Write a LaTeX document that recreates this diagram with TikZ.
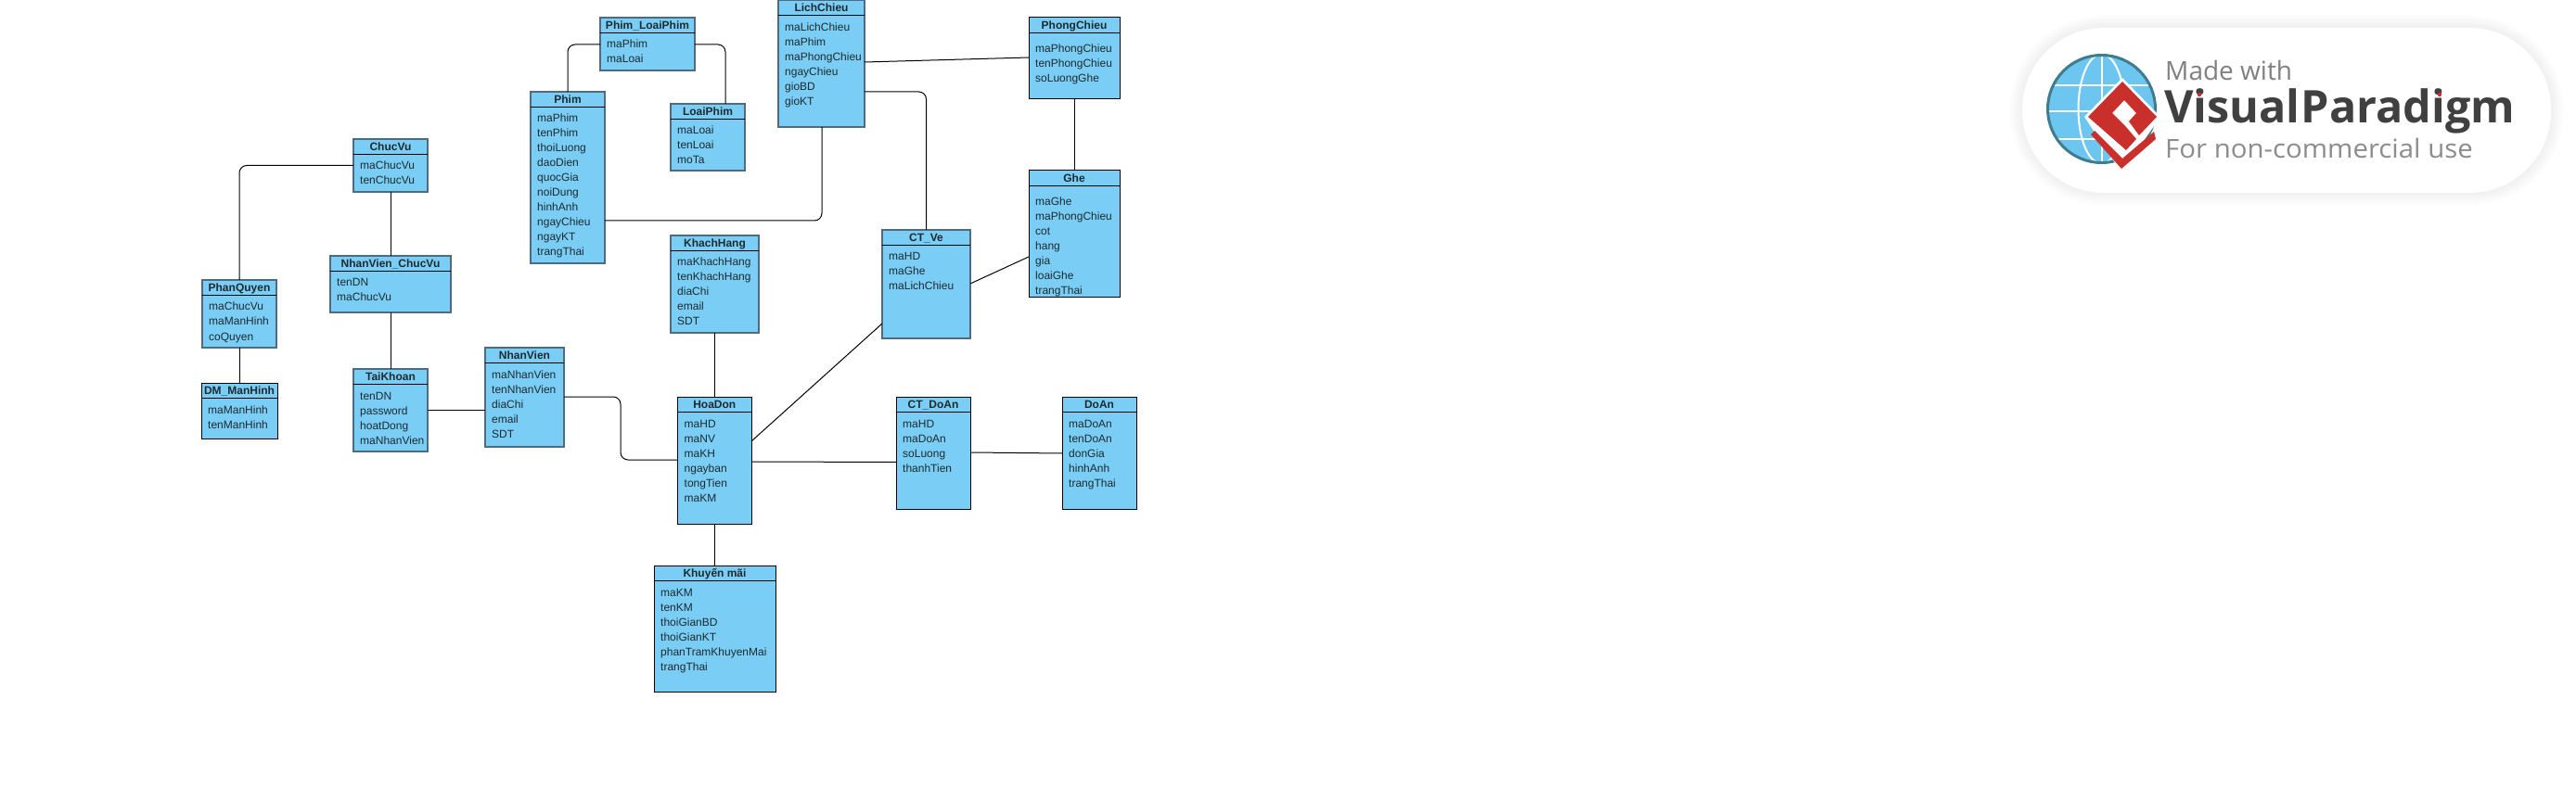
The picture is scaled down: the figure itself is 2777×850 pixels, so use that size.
\documentclass[tikz,border=0pt]{standalone}
\usepackage{fontspec}
\setmainfont{Liberation Sans}
\newfontfamily\logofont{Open Sans}
\definecolor{tblfill}{HTML}{7ACEF5}
\definecolor{tblsoft}{HTML}{4F6B80}
\definecolor{tblink}{HTML}{1F2A30}
\definecolor{logored}{HTML}{C9302C}
\definecolor{logoblue}{HTML}{6CC6F0}
\definecolor{logoring}{HTML}{3F7C90}
\tikzset{
  tblbox/.style={draw=black,line width=1pt,fill=tblfill,inner sep=0pt,outer sep=0pt},
  softbox/.style={draw=tblsoft,line width=1.6pt,fill=tblfill,inner sep=0pt,outer sep=0pt},
  tbltitle/.style={anchor=base,inner sep=0pt,text=tblink,font=\fontsize{12}{14}\selectfont\bfseries},
  tblrow/.style={anchor=base west,inner sep=0pt,text=tblink,font=\fontsize{12}{14}\selectfont},
  link/.style={draw=black,line width=1pt,rounded corners=8pt},
  logotext/.style={anchor=base west,inner sep=0pt}
}
\newcommand{\tbl}[8][tblbox]{
  \node[#1,minimum width={(#5-#3)*1pt},minimum height={(#6-#4)*1pt}] (#2) at ({(#3+#5)/2},{(#4+#6)/2}) {};
  \coordinate (#2-h) at (0,{#4+16.5});
  \draw[black,line width=1pt] (#2.west |- #2-h) -- (#2.east |- #2-h);
  \node[tbltitle] (#2-t) at ({(#3+#5)/2},{#4+12.5}) {#7};
  \foreach \r [count=\i from 0] in {#8}
    \node[tblrow] (#2-\i) at ({#3+7},{#4+33+16*\i}) {\r};
}
\begin{document}
\begin{tikzpicture}
           [x=1pt,y=-1pt]
           \useasboundingbox (0,0) rectangle (2777,850);

           \tbl[softbox]{ChucVu}{381}{150}{461}{207}{ChucVu}{maChucVu,tenChucVu}
           \tbl[softbox]{PhanQuyen}{218}{302}{298}{375}{PhanQuyen}{maChucVu,maManHinh,coQuyen}
           \tbl[softbox]{NVChucVu}{356}{276}{486}{337}{NhanVien\_ChucVu}{tenDN,maChucVu}
           \tbl{DMManHinh}{217}{413}{299}{473}{DM\_ManHinh}{maManHinh,tenManHinh}
           \tbl[softbox]{TaiKhoan}{381}{398}{461}{487}{TaiKhoan}{tenDN,password,hoatDong,maNhanVien}
           \tbl[softbox]{NhanVien}{523}{375}{608}{482}{NhanVien}{maNhanVien,tenNhanVien,diaChi,email,SDT}

           \tbl[softbox]{PhimLoai}{647}{19}{749}{76}{Phim\_LoaiPhim}{maPhim,maLoai}
           \tbl[softbox]{Phim}{572}{99}{652}{284}{Phim}{maPhim,tenPhim,thoiLuong,daoDien,quocGia,noiDung,hinhAnh,ngayChieu,ngayKT,trangThai}
           \tbl[softbox]{LoaiPhim}{723}{112}{803}{184}{LoaiPhim}{maLoai,tenLoai,moTa}
           \tbl[softbox]{LichChieu}{839}{0.5}{932}{137}{LichChieu}{maLichChieu,maPhim,maPhongChieu,ngayChieu,gioBD,gioKT}
           \tbl[softbox]{KhachHang}{723}{254}{818}{359}{KhachHang}{maKhachHang,tenKhachHang,diaChi,email,SDT}

           \tbl[softbox]{CTVe}{951}{248}{1046}{365}{CT\_Ve}{maHD,maGhe,maLichChieu}
           \tbl{CTDoAn}{966}{428}{1046}{549}{CT\_DoAn}{maHD,maDoAn,soLuong,thanhTien}
           \tbl{DoAn}{1145}{428}{1225}{549}{DoAn}{maDoAn,tenDoAn,donGia,hinhAnh,trangThai}
           \tbl{HoaDon}{730.5}{428}{810}{565}{HoaDon}{maHD,maNV,maKH,ngayban,tongTien,maKM}
           \tbl{KhuyenMai}{705}{610}{836}{746}{Khuyến mãi}{maKM,tenKM,thoiGianBD,thoiGianKT,phanTramKhuyenMai,trangThai}

           \node[tblbox,minimum width=98pt,minimum height=88pt] (PhongChieu) at (1158,63) {};
           \draw[black,line width=1pt] (PhongChieu.west |- 0,36) -- (PhongChieu.east |- 0,36);
           \node[tbltitle] (PhongChieu-t) at (1158,31.5) {PhongChieu};
           \foreach \r [count=\i from 0] in {maPhongChieu,tenPhongChieu,soLuongGhe}
             \node[tblrow] (PhongChieu-\i) at (1116,{57+16*\i}) {\r};

           \node[tblbox,minimum width=98pt,minimum height=137pt] (Ghe) at (1158,252.5) {};
           \draw[black,line width=1pt] (Ghe.west |- 0,201) -- (Ghe.east |- 0,201);
           \node[tbltitle] (Ghe-t) at (1158,196.5) {Ghe};
           \foreach \r [count=\i from 0] in {maGhe,maPhongChieu,cot,hang,gia,loaiGhe,trangThai}
             \node[tblrow] (Ghe-\i) at (1116,{222+16*\i}) {\r};

           \draw[link] (PhanQuyen.north) |- (ChucVu.west);
           \draw[link] (ChucVu.south) -- (NVChucVu.north -| ChucVu.south);
           \draw[link] (NVChucVu.south -| TaiKhoan.north) -- (TaiKhoan.north);
           \draw[link] (PhanQuyen.south) -- (DMManHinh.north -| PhanQuyen.south);
           \draw[link] (TaiKhoan.east) -- (NhanVien.west |- TaiKhoan.east);
           \draw[link] (NhanVien.east |- 0,428) -- (669,428) -- (669,496) -- (HoaDon.west |- 0,496);
           \draw[link] (KhachHang.south -| HoaDon.north) -- (HoaDon.north);
           \draw[link] (HoaDon.south) -- (KhuyenMai.north -| HoaDon.south);
           \draw[link] (HoaDon.east |- 0,476) -- (CTVe.west |- 0,349);
           \draw[link] (HoaDon.east |- 0,498) -- (CTDoAn.west |- 0,498.5);
           \draw[link] (CTDoAn.east |- 0,488) -- (DoAn.west |- 0,489);
           \draw[link] (CTVe.east |- 0,306) -- (Ghe.west |- 0,277);
           \draw[link] (LichChieu.east |- 0,99) -| (CTVe.north);
           \draw[link] (LichChieu.east |- 0,67) -- (PhongChieu.west |- 0,62);
           \draw[link] (PhongChieu.south) -- (Ghe.north);
           \draw[link] (Phim.east |- 0,238) -| (886,137);
           \draw[link] (Phim.north -| 612,0) |- (PhimLoai.west |- 0,48);
           \draw[link] (PhimLoai.east |- 0,48) -| (782,112);

           \foreach \s in {14,12,...,2}
             \fill[black,opacity=0.008,rounded corners={(88+\s)*1pt}] ({2180-\s},{30-\s}) rectangle ({2750+\s},{208+\s});
           \fill[white,rounded corners=88pt] (2180,30) rectangle (2750,208);

           \begin{scope}
             \clip (2265.5,117.5) circle (58);
             \fill[logoblue] (2265.5,117.5) circle (58);
             \draw[white,line width=2pt] (2207,92) -- (2324,92) (2207,120) -- (2324,120) (2207,150) -- (2324,150);
             \draw[white,line width=2pt] (2265.5,59) -- (2265.5,177);
             \draw[white,line width=2pt] (2265.5,117.5) ellipse (25 and 59);
           \end{scope}
           \draw[logoring,line width=3pt] (2265.5,117.5) circle (58);

           \fill[white] (2288,84) -- (2329,126) -- (2287,186) -- (2247,126) -- cycle;
           \fill[logored] (2288,88) -- (2325,126) -- (2306,146) -- (2295,131) -- (2303,122) -- (2290,108) -- (2277,122) -- (2292,137) -- (2303,150) -- (2292,162) -- (2251,126) -- cycle;
           \fill[logored] (2254,145) -- (2258,141) -- (2288,171) -- (2322,142) -- (2324,150) -- (2287,182) -- cycle;

           \node[logotext,text=black!50,font=\logofont\fontsize{28}{30}\selectfont] (MadeWith) at (2334,87) {Made with};
           \node[logotext,text=black!75,font=\logofont\fontsize{48.5}{50}\selectfont\bfseries] (VPName) at (2333,133) {Visual\hspace{1pt}Paradigm};
           \node[logotext,text=black!45,font=\logofont\fontsize{28}{30}\selectfont] (NonComm) at (2334,171) {\scalebox{1.05}[1]{For non-commercial use}};
           \fill[logored] (2371,102) circle (2.2);
           \fill[logored] (2630,102) circle (2.2);
\end{tikzpicture}
\end{document}
